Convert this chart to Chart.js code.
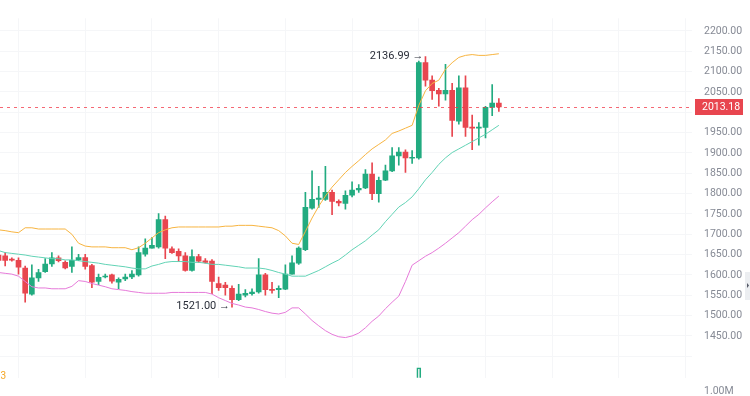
<!DOCTYPE html>
<html>
<head>
<meta charset="utf-8">
<script src="https://cdn.jsdelivr.net/npm/chart.js@4/dist/chart.umd.min.js"></script>
<style>
html, body { margin: 0; padding: 0; background: #fff; overflow: hidden; }
canvas { display: block; }
</style>
</head>
<body>
<canvas id="chart" width="750" height="396"></canvas>
<script>
const opens = [1649,1647,1639,1636,1617,1553,1593,1608,1627,1642,
    1631,1621,1637,1643,1623,1584,1595,1600,1582,1590,
    1595,1600,1651,1666,1669,1736,1664,1658,1647,1611,
    1645,1635,1634,1579,1575,1567,1539,1550,1554,1558,
    1600,1564,1564,1565,1602,1629,1662,1764,1786,1786,
    1803,1781,1776,1796,1809,1814,1848,1800,1833,1856,
    1893,1902,1887,1888,2122,2079,2054,2045,2054,1978,
    2060,1963,1961,1963,2012,2023];
const highs = [1653,1655,1642,1642,1622,1625,1614,1640,1655,1647,
    1635,1669,1651,1651,1626,1602,1602,1602,1593,1602,
    1611,1669,1689,1692,1751,1745,1669,1664,1655,1662,
    1651,1640,1638,1595,1582,1573,1577,1564,1566,1640,
    1604,1582,1573,1625,1647,1669,1803,1856,1818,1867,
    1809,1785,1807,1829,1822,1859,1876,1841,1870,1913,
    1913,1908,1906,2126,2136.99,2090,2059,2118,2071,2090,
    2090,1993,1975,2015,2068,2034];
const lows = [1629,1622,1634,1602,1533,1550,1584,1606,1621,1632,
    1615,1606,1635,1614,1569,1576,1593,1580,1566,1586,
    1591,1597,1646,1666,1666,1640,1653,1633,1609,1609,
    1631,1629,1554,1562,1550,1521,1537,1546,1550,1555,
    1550,1555,1544,1564,1602,1626,1660,1762,1766,1783,
    1748,1770,1762,1792,1803,1812,1785,1779,1832,1854,
    1870,1852,1874,1885,2064,2032,2015,2030,1941,1971,
    1941,1908,1919,1937,1992,2002];
const closes = [1636,1636,1636.5,1619,1555,1593,1606,1627,1642,1635,
    1617,1636,1643,1621,1582,1594,1597,1585,1589,1595,
    1602,1655,1666,1673,1736,1666,1655,1647,1611,1645,
    1634,1631,1584,1569,1569,1539,1553,1555,1558,1600,
    1564,1562,1567,1602,1630,1666,1766,1786,1789,1803,
    1781,1777,1796,1809,1813,1848,1800,1833,1856,1893,
    1902,1888,1889,2122,2079,2053,2045,2054,1980,2060,
    1963,1961,1963,2012,2023,2013.18];

// Bollinger bands
const bandUpper = [1711,1709,1706,1704,1716,1716,1713,1713,1713,1713,
    1713,1700,1678,1671,1669,1669,1669,1667,1667,1667,
    1662,1667,1678,1691,1704,1711,1716,1718,1718,1718,
    1718,1718,1718,1718,1720,1720,1722,1722,1722,1720,
    1718,1716,1709,1696,1678,1675,1707,1740,1769,1794,
    1816,1834,1852,1867,1881,1896,1910,1921,1932,1948,
    1954,1961,1968,2017,2053,2071,2079,2106,2122,2135,
    2140,2142,2140,2140,2142,2144];
const bandMiddle = [1660,1655,1653,1651,1649,1646,1644,1642,1640,1640,
    1637,1637,1635,1633,1631,1629,1626,1624,1622,1620,
    1617,1615,1615,1622,1626,1631,1633,1633,1633,1631,
    1631,1629,1626,1626,1624,1622,1620,1617,1617,1617,
    1615,1611,1606,1602,1597,1597,1597,1604,1611,1620,
    1629,1637,1649,1662,1673,1684,1698,1711,1731,1749,
    1767,1778,1792,1812,1834,1852,1872,1888,1901,1910,
    1919,1928,1937,1946,1957,1968];
const bandLower = [1606,1604,1602,1597,1584,1571,1568,1568,1566,1566,
    1566,1572,1586,1584,1579,1575,1571,1566,1564,1562,
    1559,1557,1555,1555,1555,1555,1557,1557,1557,1557,
    1557,1557,1553,1544,1537,1530,1526,1521,1519,1515,
    1510,1506,1504,1508,1519,1519,1504,1488,1475,1463,
    1454,1448,1446,1450,1457,1470,1486,1499,1517,1533,
    1548,1584,1624,1635,1646,1655,1666,1678,1691,1704,
    1720,1736,1749,1765,1780,1794];

// volume in millions, only the big bar shows above the crop
const volumes = [null,null,null,null,null,null,null,null,null,null,
    null,null,null,null,null,null,null,null,null,null,
    null,null,null,null,null,null,null,null,null,null,
    null,null,null,null,null,null,null,null,null,null,
    null,null,null,null,null,null,null,null,null,null,
    null,null,null,null,null,null,null,null,null,null,
    null,null,null,1.6,null,null,null,null,null,null,
    null,null,null,null,null,null];

const priceTicks = [1400,1450,1500,1550,1600,1650,1700,1750,1800,1850,1900,1950,2000,2050,2100,2150,2200];
const timeGrid = [3,13,23,33,43,53,63,73,83,93,103];

const GREEN = '#22ab80';
const RED = '#e8464f';
const FONT = 'Roboto, "Liberation Sans", sans-serif';

const idx = opens.map((v, i) => i);
const colors = idx.map(i => closes[i] >= opens[i] ? GREEN : RED);

const overlay = {
    id: 'overlay',
    afterDatasetsDraw(chart) {
        const {ctx, chartArea: a, scales: {x, y}} = chart;
        const last = closes[closes.length - 1];
        const py = Math.round(y.getPixelForValue(last)) + 0.5;
        ctx.save();
        ctx.strokeStyle = 'rgb(242, 54, 69)';
        ctx.globalAlpha = 0.75;
        ctx.lineWidth = 1;
        ctx.setLineDash([3, 4]);
        ctx.beginPath();
        ctx.moveTo(a.left, py);
        ctx.lineTo(a.right, py);
        ctx.stroke();
        ctx.setLineDash([]);
        ctx.globalAlpha = 1;

        ctx.font = '11px ' + FONT;
        ctx.fillStyle = '#2a2e39';
        ctx.textAlign = 'right';
        ctx.textBaseline = 'middle';
        const hiVal = Math.max(...highs);
        const hi = highs.indexOf(hiVal);
        ctx.fillText(hiVal.toFixed(2) + ' →', x.getPixelForValue(hi) - 2, y.getPixelForValue(hiVal));
        const loVal = Math.min(...lows);
        const lo = lows.indexOf(loVal);
        ctx.fillText(loVal.toFixed(2) + ' →', x.getPixelForValue(lo) - 2, y.getPixelForValue(loVal) - 1);
        ctx.restore();
    },
    afterDraw(chart) {
        const {ctx, chartArea: a, scales: {y}} = chart;
        const last = closes[closes.length - 1];
        const py = Math.round(y.getPixelForValue(last));
        ctx.save();
        ctx.fillStyle = RED;
        ctx.fillRect(a.right + 3, py - 8, 48, 16);
        ctx.fillStyle = '#fff';
        ctx.font = '10.5px ' + FONT;
        ctx.textBaseline = 'middle';
        ctx.textAlign = 'left';
        ctx.fillText(last.toFixed(2), a.right + 10, py + 0.5);

        ctx.fillStyle = '#868a95';
        ctx.fillText('1.00M', a.right + 12, 391);

        ctx.fillStyle = '#f5a623';
        ctx.font = '10px ' + FONT;
        ctx.textAlign = 'right';
        ctx.fillText('93', 6, 376);

        // collapse tab at the right edge
        ctx.fillStyle = '#eceef1';
        ctx.fillRect(745, 272, 5, 28);
        ctx.fillStyle = '#555a66';
        ctx.beginPath();
        ctx.moveTo(747, 283);
        ctx.lineTo(749, 285.5);
        ctx.lineTo(747, 288);
        ctx.fill();
        ctx.restore();
    }
};

new Chart(document.getElementById('chart'), {
    type: 'bar',
    data: {
        datasets: [
            {
                type: 'line',
                data: idx.map(i => ({x: i, y: bandUpper[i]})),
                borderColor: '#f7b440',
                borderWidth: 1,
                pointRadius: 0,
                order: 0
            },
            {
                type: 'line',
                data: idx.map(i => ({x: i, y: bandMiddle[i]})),
                borderColor: '#62d3b5',
                borderWidth: 1,
                pointRadius: 0,
                order: 0
            },
            {
                type: 'line',
                data: idx.map(i => ({x: i, y: bandLower[i]})),
                borderColor: '#e67ad9',
                borderWidth: 1,
                pointRadius: 0,
                order: 0
            },
            {
                data: idx.map(i => ({x: i, y: [lows[i], highs[i]]})),
                backgroundColor: colors,
                barThickness: 1,
                grouped: false,
                order: 2
            },
            {
                data: idx.map(i => ({x: i, y: [opens[i], closes[i]]})),
                backgroundColor: colors,
                barThickness: 5,
                minBarLength: 1,
                grouped: false,
                order: 1
            },
            {
                data: idx.map(i => ({x: i, y: volumes[i]})),
                yAxisID: 'vol',
                backgroundColor: 'rgba(255,255,255,0)',
                borderColor: GREEN,
                borderWidth: 1,
                barThickness: 4,
                grouped: false,
                order: 3
            }
        ]
    },
    options: {
        responsive: false,
        animation: false,
        layout: {padding: 0},
        plugins: {legend: {display: false}, tooltip: {enabled: false}},
        scales: {
            x: {
                type: 'linear',
                min: 0.225,
                max: 103.95,
                offset: false,
                afterBuildTicks: s => { s.ticks = timeGrid.map(v => ({value: v})); },
                ticks: {display: false},
                grid: {color: '#f5f6f8', drawTicks: false, offset: false},
                border: {display: false}
            },
            y: {
                position: 'right',
                min: 1347.3,
                max: 2231.2,
                afterBuildTicks: s => { s.ticks = priceTicks.map(v => ({value: v})); },
                afterFit: s => { s.width = 58; },
                ticks: {
                    padding: 12,
                    color: '#868a95',
                    font: {family: FONT, size: 10.5},
                    callback: v => v >= 1450 ? v.toFixed(2) : ''
                },
                grid: {color: '#f5f6f8', drawTicks: false},
                border: {display: false}
            },
            vol: {
                display: false,
                min: 0.5,
                max: 40.1
            }
        }
    },
    plugins: [overlay]
});
</script>
</body>
</html>
